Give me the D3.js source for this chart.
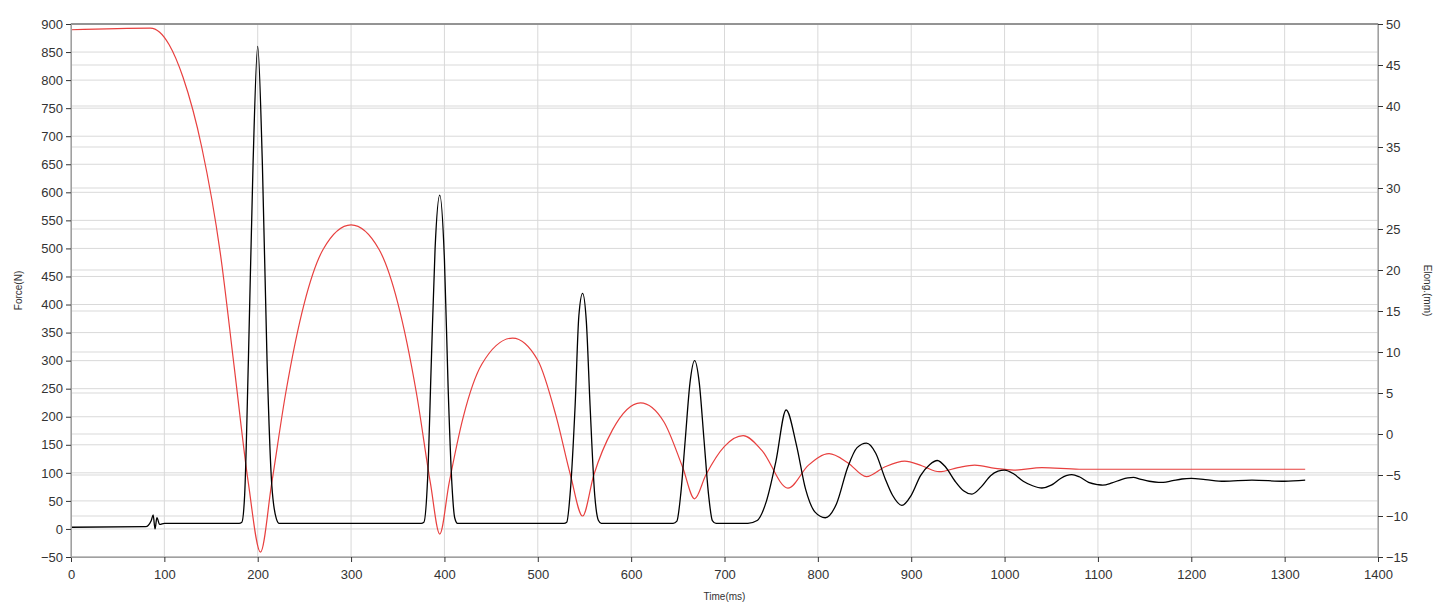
<!DOCTYPE html>
<html><head><meta charset="utf-8">
<script src="https://cdn.jsdelivr.net/npm/d3@7"></script>
<style>body{margin:0;background:#fff}svg{font-family:"Liberation Sans",Arial,sans-serif}</style>
</head><body><svg id="c" width="1445" height="608"></svg>
<script>
const xTicks=d3.range(0,1401,100);
const forceTicks=d3.range(-50,901,50);
const elongTicks=d3.range(-15,51,5);
const forceT=[0,80,86,88,90,92,95,100,180,183,186,190,195,200,205,210,215,220,223,240,375,378,382,386,390,395,400,404,408,411,414,430,528,531,535,540,544,548,552,556,561,565,568,580,645,649,653,658,663,668,673,678,683,687,691,710,725,735,745,755,766,777,787,797,808,820,832,842,852,862,872,880,890,900,910,920,928,937,947,956,965,975,985,993,1000,1010,1020,1030,1040,1050,1060,1066,1072,1080,1090,1100,1105,1115,1125,1132,1138,1145,1155,1165,1170,1180,1190,1200,1215,1235,1265,1300,1322];
const forceV=[3,4,15,25,0,20,8,10,10,12,60,300,650,860,650,300,80,18,10,10,10,12,90,300,500,595,480,250,80,20,10,10,10,12,70,220,380,420,370,220,60,15,10,10,10,14,60,160,260,300,260,160,60,15,10,10,10,15,50,120,212,150,70,30,20,45,110,145,153,135,90,60,42,60,95,115,122,110,85,68,62,75,95,103,105,98,85,77,73,78,90,95,97,93,83,79,78,82,88,91,92,89,85,83,83,86,89,90,88,85,87,85,87];
const elongT=[0,85,95,105,120,140,160,175,190,203,215,230,250,270,300,330,350,370,385,395,405,420,440,473,500,520,535,548,560,580,610,635,655,668,680,700,720,740,768,790,812,832,852,872,893,912,930,950,968,990,1010,1040,1080,1322];
const elongV=[49.3,49.5,49,47.5,43.5,35,22,8,-6,-14.4,-6,5,16,22.5,25.5,22.5,16,5,-6,-12.2,-6,2,8.5,11.7,9,2,-5,-10,-5,0.5,3.8,1.5,-4,-7.9,-5,-1.5,-0.2,-2,-6.6,-3.8,-2.4,-3.5,-5.2,-4,-3.3,-3.9,-4.6,-4.1,-3.8,-4.2,-4.4,-4.1,-4.3,-4.3];

const svg=d3.select("#c");
const L=71,R=1378,T=24,B=557;
const x=d3.scaleLinear().domain([0,1400]).range([L,R]);
const y=d3.scaleLinear().domain([-50,900]).range([B,T]);
const y2=d3.scaleLinear().domain([-15,50]).range([B,T]);
const g=svg.append("g");
// grid
g.selectAll(".gx").data(xTicks).enter().append("line").attr("x1",d=>x(d)).attr("x2",d=>x(d)).attr("y1",T).attr("y2",B).attr("stroke","#d9d9d9");
g.selectAll(".gy").data(forceTicks).enter().append("line").attr("x1",L).attr("x2",R).attr("y1",d=>y(d)).attr("y2",d=>y(d)).attr("stroke","#d9d9d9");
g.selectAll(".gy2").data(elongTicks).enter().append("line").attr("x1",L).attr("x2",R).attr("y1",d=>y2(d)).attr("y2",d=>y2(d)).attr("stroke","#d9d9d9");
svg.append("rect").attr("x",L).attr("y",T).attr("width",R-L).attr("height",B-T).attr("fill","none").attr("stroke","#a0a0a0");
svg.append("line").attr("x1",L).attr("x2",R).attr("y1",T).attr("y2",T).attr("stroke","#666");
// lines
const fData=forceT.map((t,i)=>[t,forceV[i]]);
const eData=elongT.map((t,i)=>[t,elongV[i]]);
svg.append("path").datum(eData).attr("fill","none").attr("stroke","#e8403f").attr("stroke-width",1.2)
 .attr("d",d3.line().x(d=>x(d[0])).y(d=>y2(d[1])).curve(d3.curveMonotoneX));
svg.append("path").datum(fData).attr("fill","none").attr("stroke","#000").attr("stroke-width",1.3)
 .attr("d",d3.line().x(d=>x(d[0])).y(d=>y(d[1])).curve(d3.curveMonotoneX));
// axes
const fs="13px";
const ax=svg.append("g").attr("transform",`translate(0,${B})`).call(d3.axisBottom(x).tickValues(xTicks).tickSize(5).tickFormat(d3.format("d")));
const ay=svg.append("g").attr("transform",`translate(${L},0)`).call(d3.axisLeft(y).tickValues(forceTicks).tickSize(5).tickFormat(d3.format("d")));
const ay2=svg.append("g").attr("transform",`translate(${R},0)`).call(d3.axisRight(y2).tickValues(elongTicks).tickSize(5).tickFormat(d3.format("d")));
[ax,ay,ay2].forEach(a=>{a.select(".domain").attr("stroke","#a0a0a0");a.selectAll(".tick line").attr("stroke","#333");a.selectAll("text").attr("font-size",fs).attr("fill","#333").attr("font-family","Liberation Sans, Arial");});
ax.selectAll("text").attr("dy","1.1em");
svg.append("text").attr("x",(L+R)/2).attr("y",600).attr("text-anchor","middle").attr("font-size","10px").attr("fill","#333").text("Time(ms)");
svg.append("text").attr("transform",`translate(22,${(T+B)/2}) rotate(-90)`).attr("text-anchor","middle").attr("font-size","10px").attr("fill","#333").text("Force(N)");
svg.append("text").attr("transform",`translate(1424,${(T+B)/2}) rotate(90)`).attr("text-anchor","middle").attr("font-size","10px").attr("fill","#333").text("Elong.(mm)");
</script></body></html>
